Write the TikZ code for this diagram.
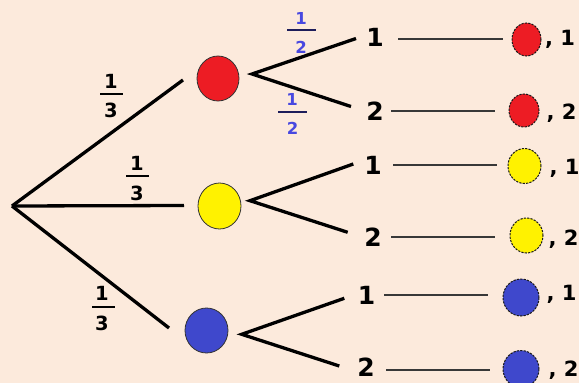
\documentclass[tikz,border=0pt]{standalone}
\usepackage{fontspec}
\setmainfont{DejaVu Sans}
\usetikzlibrary{shapes.geometric}

\definecolor{paper}{RGB}{252,234,220}
\definecolor{ballred}{RGB}{237,28,36}
\definecolor{ballyellow}{RGB}{255,242,0}
\definecolor{ballblue}{RGB}{63,72,204}
\definecolor{probblue}{RGB}{72,72,224}

\tikzset{
  branch/.style={line width=3.3pt},
  link/.style={line width=1.7pt, draw=black!78},
  bigball/.style={ellipse, draw=black!80, line width=0.8pt, inner sep=0pt},
  smallball/.style={ellipse, draw=black!90, line width=1pt, dash pattern=on 2.2pt off 1.2pt, inner sep=0pt},
  pick/.style={inner sep=0pt, font=\fontsize{25}{30}\selectfont\bfseries},
  result/.style={inner sep=0pt, anchor=base west, font=\fontsize{21}{24}\selectfont\bfseries},
  thirdnum/.style={inner sep=0pt, font=\fontsize{19.5}{23}\selectfont\bfseries},
  halfnum/.style={inner sep=0pt, text=probblue, font=\fontsize{16.5}{20}\selectfont\bfseries},
  bar/.style={line width=1.3pt},
}

\begin{document}
\begin{tikzpicture}[x=1pt, y=-1pt]
  % canvas
  \fill[paper] (0,0) rectangle (579,383);
  \useasboundingbox (0,0) rectangle (579,383);

  % first draw: colour of the ball
  \coordinate (root) at (12,206);
  \coordinate (toR) at (183,80);
  \coordinate (toY) at (184,205.5);
  \coordinate (toB) at (169,328);
  \draw[branch] (root) -- (toR);
  \draw[branch] (root) -- (toY);
  \draw[branch] (root) -- (toB);

  \node[bigball, fill=ballred, minimum width=42pt, minimum height=45pt] (bR) at (218,78.5) {};
  \node[bigball, fill=ballyellow, minimum width=43pt, minimum height=46pt] (bY) at (219.5,206) {};
  \node[bigball, fill=ballblue, minimum width=43pt, minimum height=45pt] (bB) at (206.5,330.5) {};

  % probabilities of the first draw
  \node[thirdnum] (pR1) at (111,81) {1};
  \node[thirdnum] (pR3) at (111,110) {3};
  \draw[bar] (100,94) -- (123,94);
  \node[thirdnum] (pY1) at (137,163) {1};
  \node[thirdnum] (pY3) at (137,193) {3};
  \draw[bar] (126,176) -- (149,176);
  \node[thirdnum] (pB1) at (102,293) {1};
  \node[thirdnum] (pB3) at (102,323) {3};
  \draw[bar] (92,307) -- (115,307);

  % second draw: the number
  \coordinate (vR) at (252,74);
  \coordinate (vY) at (250,200.7);
  \coordinate (vB) at (241.7,334.3);
  \coordinate (eR1) at (356,38.5);
  \coordinate (eR2) at (351,106.5);
  \coordinate (eY1) at (353.3,164);
  \coordinate (eY2) at (347.7,232.3);
  \coordinate (eB1) at (344.3,298.3);
  \coordinate (eB2) at (339.3,366);
  \draw[branch] (eR1) -- (vR) -- (eR2);
  \draw[branch] (eY1) -- (vY) -- (eY2);
  \draw[branch] (eB1) -- (vB) -- (eB2);

  % probabilities of the second draw
  \node[halfnum] (hA1) at (301,18) {1};
  \node[halfnum] (hA2) at (301,47.5) {2};
  \draw[bar, probblue!40!black] (287,30) -- (316,30);
  \node[halfnum] (hB1) at (292,99) {1};
  \node[halfnum] (hB2) at (292.5,128) {2};
  \draw[bar, probblue!40!black] (278,112) -- (307,112);

  % number labels
  \node[pick] (nR1) at (375,37.5) {1};
  \node[pick] (nR2) at (375,111) {2};
  \node[pick] (nY1) at (373,165) {1};
  \node[pick] (nY2) at (373,237.5) {2};
  \node[pick] (nB1) at (366.5,295) {1};
  \node[pick] (nB2) at (366,367.5) {2};

  % outcomes
  \node[smallball, fill=ballred, minimum width=29pt, minimum height=33pt] (oR1) at (526.5,39.5) {};
  \node[smallball, fill=ballred, minimum width=30pt, minimum height=33pt] (oR2) at (524,110.5) {};
  \node[smallball, fill=ballyellow, minimum width=33pt, minimum height=35pt] (oY1) at (524.5,166) {};
  \node[smallball, fill=ballyellow, minimum width=33pt, minimum height=35pt] (oY2) at (526.5,235.5) {};
  \node[smallball, fill=ballblue, minimum width=36pt, minimum height=37pt] (oB1) at (521,297.5) {};
  \node[smallball, fill=ballblue, minimum width=36pt, minimum height=37pt] (oB2) at (521,369) {};

  \coordinate (sR1) at (398,39);   \coordinate (tR1) at (503,39);
  \coordinate (sR2) at (391,111);  \coordinate (tR2) at (495,111);
  \coordinate (sY1) at (393,165);  \coordinate (tY1) at (497,165);
  \coordinate (sY2) at (391,237);  \coordinate (tY2) at (495,237);
  \coordinate (sB1) at (384,295);  \coordinate (tB1) at (488,295);
  \coordinate (sB2) at (386,370);  \coordinate (tB2) at (490,370);
  \draw[link] (sR1) -- (tR1);
  \draw[link] (sR2) -- (tR2);
  \draw[link] (sY1) -- (tY1);
  \draw[link] (sY2) -- (tY2);
  \draw[link] (sB1) -- (tB1);
  \draw[link] (sB2) -- (tB2);

  \node[result] (rR1) at (545,45.5) {, 1};
  \node[result] (rR2) at (546.5,119) {, 2};
  \node[result] (rY1) at (549.5,174.5) {, 1};
  \node[result] (rY2) at (548.5,245) {, 2};
  \node[result] (rB1) at (546.5,300) {, 1};
  \node[result] (rB2) at (548.5,376) {, 2};
\end{tikzpicture}
\end{document}
